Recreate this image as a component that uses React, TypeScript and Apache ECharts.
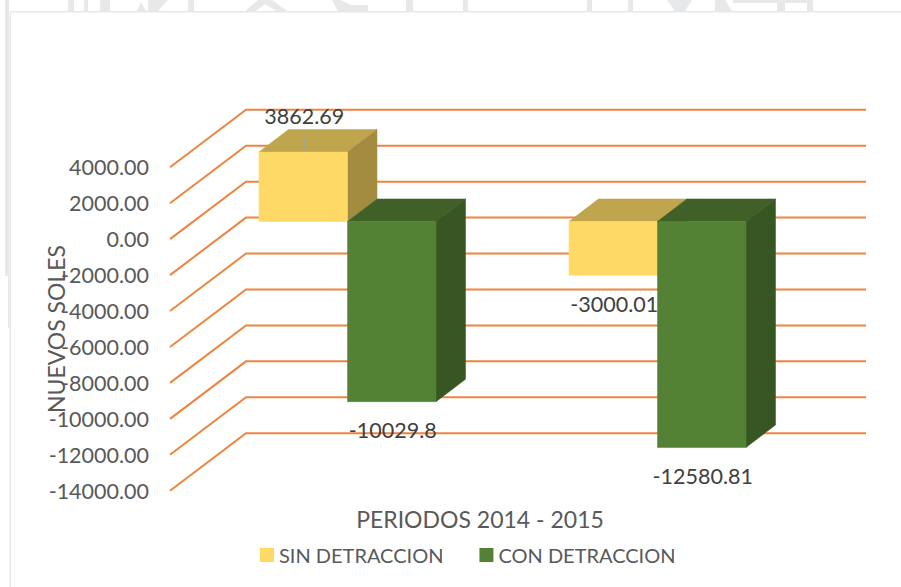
import React, { useEffect, useRef } from "react";
import * as echarts from "echarts";

const periods = ["2014", "2015"];
const sinDetraccion = [3862.69, -3000.01];
const conDetraccion = [-10029.8, -12580.81];
const wallTicks = [4000, 2000, 0, -2000, -4000, -6000, -8000, -10000, -12000, -14000];

const FONT = "Lato";
const WALL_DX = 76;
const WALL_DY = -57.5;
const SHIFT_DX = 22.5;
const SHIFT_DY = -17.7;
const DEPTH_DX = 29.5;
const DEPTH_DY = -22.5;
const BAR_RATIO = 0.2855;

const YELLOW = { front: "#FFD966", top: "#BFA54D", side: "#A38C40" };
const GREEN = { front: "#548235", top: "#416027", side: "#375623" };

const makeBarRender = (colors: any, side: number) => (params: any, api: any) => {
  const cat = api.value(0);
  const val = api.value(1);
  const zero = api.coord([cat, 0]);
  const tip = api.coord([cat, val]);
  const w = api.size([1, 0])[0] * BAR_RATIO;
  const cx = zero[0] + SHIFT_DX;
  const x0 = side < 0 ? cx - w : cx;
  const x1 = x0 + w;
  const yTop = Math.min(zero[1], tip[1]) + SHIFT_DY;
  const yBot = Math.max(zero[1], tip[1]) + SHIFT_DY;
  const poly = (points: number[][], fill: string) => ({
    type: "polygon",
    shape: { points },
    style: { fill, stroke: fill, lineWidth: 0.5 },
  });
  return {
    type: "group",
    children: [
      poly(
        [
          [x0, yTop],
          [x0 + DEPTH_DX, yTop + DEPTH_DY],
          [x1 + DEPTH_DX, yTop + DEPTH_DY],
          [x1, yTop],
        ],
        colors.top
      ),
      poly(
        [
          [x1, yTop],
          [x1 + DEPTH_DX, yTop + DEPTH_DY],
          [x1 + DEPTH_DX, yBot + DEPTH_DY],
          [x1, yBot],
        ],
        colors.side
      ),
      poly(
        [
          [x0, yTop],
          [x1, yTop],
          [x1, yBot],
          [x0, yBot],
        ],
        colors.front
      ),
    ],
  };
};

const renderWall = (params: any, api: any) => {
  const y = api.coord([0, api.value(1)])[1];
  const left = params.coordSys.x;
  const right = left + params.coordSys.width;
  return {
    type: "polyline",
    shape: {
      points: [
        [left, y],
        [left + WALL_DX, y + WALL_DY],
        [right + WALL_DX, y + WALL_DY],
      ],
    },
    style: { stroke: "#EE8440", lineWidth: 2, fill: "none" },
  };
};

const renderLabel = (params: any, api: any) => {
  const cat = api.value(0);
  const val = api.value(1);
  const side = api.value(2);
  const zero = api.coord([cat, 0]);
  const tip = api.coord([cat, val]);
  const w = api.size([1, 0])[0] * BAR_RATIO;
  const x = zero[0] + SHIFT_DX + (side * w) / 2 + 1;
  const yFront = tip[1] + SHIFT_DY;
  const y = val >= 0 ? yFront - 36 : yFront + 28.5;
  const children: any[] = [
    {
      type: "text",
      x,
      y,
      style: {
        text: String(val),
        fill: "#404040",
        font: `21.5px ${FONT}`,
        align: "center",
        verticalAlign: "middle",
      },
    },
  ];
  if (val >= 0) {
    children.unshift({
      type: "line",
      shape: { x1: x, y1: yFront - 17, x2: x, y2: yFront },
      style: { stroke: "#A6A6A6", lineWidth: 1 },
    });
  }
  return { type: "group", children };
};

const wm = (x: number, y: number, width: number, height: number) => ({
  type: "rect",
  shape: { x, y, width, height },
  style: { fill: "#E7E8E9" },
  silent: true,
});
const wmPoly = (points: number[][]) => ({
  type: "polygon",
  shape: { points },
  style: { fill: "#E7E8E9" },
  silent: true,
});

const backdrop = [
  wm(5, 0, 4, 276),
  wm(8, 276, 1.5, 52),
  wm(9.5, 12, 1.5, 575),
  wm(10, 11, 891, 1.4),
  wm(68, 0, 6, 11),
  wm(84, 0, 4, 11),
  wm(100, 0, 10, 11),
  wmPoly([[137, 11], [141, 2], [146, 11]]),
  wmPoly([[148, 0], [168, 0], [158, 11], [148, 11]]),
  wm(188, 0, 6, 11),
  wmPoly([[245, 11], [258, 0], [272, 0], [287, 11], [276, 11], [265, 4], [256, 11]]),
  wmPoly([[332, 0], [340, 0], [352, 5], [368, 5], [368, 11], [338, 11]]),
  wm(406, 0, 7, 11),
  wm(463, 0, 5, 11),
  wm(587, 0, 5, 11),
  wm(628, 0, 5, 11),
  wmPoly([[667, 0], [692, 0], [685, 11], [675, 11]]),
  wmPoly([[715, 11], [715, 0], [725, 0], [732, 11]]),
  wm(733, 0, 74, 3),
  wm(777, 3, 8, 8),
  wm(807, 0, 6, 11),
];

export default function App() {
  const ref = useRef<HTMLDivElement>(null);
  useEffect(() => {
    const chart = echarts.init(ref.current!, undefined, { renderer: "svg" });
    chart.setOption({
      animation: false,
      backgroundColor: "#FFFFFF",
      textStyle: { fontFamily: FONT },
      graphic: { elements: backdrop },
      grid: { left: 170, top: 167.3, width: 620, height: 323.4 },
      legend: {
        data: ["SIN DETRACCION", "CON DETRACCION"],
        left: 255,
        top: 540,
        icon: "rect",
        itemWidth: 14,
        itemHeight: 14,
        itemGap: 36,
        selectedMode: false,
        textStyle: { color: "#595959", fontSize: 20, fontFamily: FONT },
      },
      xAxis: {
        type: "category",
        data: periods,
        name: "PERIODOS 2014 - 2015",
        nameLocation: "middle",
        nameGap: 17,
        nameTextStyle: { color: "#595959", fontSize: 23, fontFamily: FONT },
        axisLine: { show: false, onZero: false },
        axisTick: { show: false },
        axisLabel: { show: false },
        splitLine: { show: false },
      },
      yAxis: {
        type: "value",
        min: -14000,
        max: 4000,
        interval: 2000,
        name: "NUEVOS SOLES",
        nameLocation: "middle",
        nameGap: 103,
        nameMoveOverlap: false,
        nameRotate: 90,
        nameTextStyle: { color: "#595959", fontSize: 23, fontFamily: FONT },
        axisLine: { show: false },
        axisTick: { show: false },
        splitLine: { show: false },
        axisLabel: {
          color: "#595959",
          fontSize: 21.5,
          fontFamily: FONT,
          margin: 21,
          formatter: (v: number) => v.toFixed(2),
        },
      },
      series: [
        {
          type: "custom",
          name: "walls",
          silent: true,
          z: 1,
          renderItem: renderWall,
          encode: { x: 0, y: 1 },
          data: wallTicks.map((v) => [0, v]),
        },
        {
          type: "custom",
          name: "SIN DETRACCION",
          z: 2,
          itemStyle: { color: YELLOW.front },
          renderItem: makeBarRender(YELLOW, -1),
          encode: { x: 0, y: 1 },
          data: sinDetraccion.map((v, i) => [i, v]),
        },
        {
          type: "custom",
          name: "CON DETRACCION",
          z: 3,
          itemStyle: { color: GREEN.front },
          renderItem: makeBarRender(GREEN, 1),
          encode: { x: 0, y: 1 },
          data: conDetraccion.map((v, i) => [i, v]),
        },
        {
          type: "custom",
          name: "labels",
          silent: true,
          z: 4,
          renderItem: renderLabel,
          encode: { x: 0, y: 1 },
          data: [
            ...sinDetraccion.map((v, i) => [i, v, -1]),
            ...conDetraccion.map((v, i) => [i, v, 1]),
          ],
        },
      ],
    });
    return () => chart.dispose();
  }, []);
  return (
    <div
      ref={ref}
      style={{ position: "fixed", left: 0, top: 0, width: 901, height: 587 }}
    />
  );
}
